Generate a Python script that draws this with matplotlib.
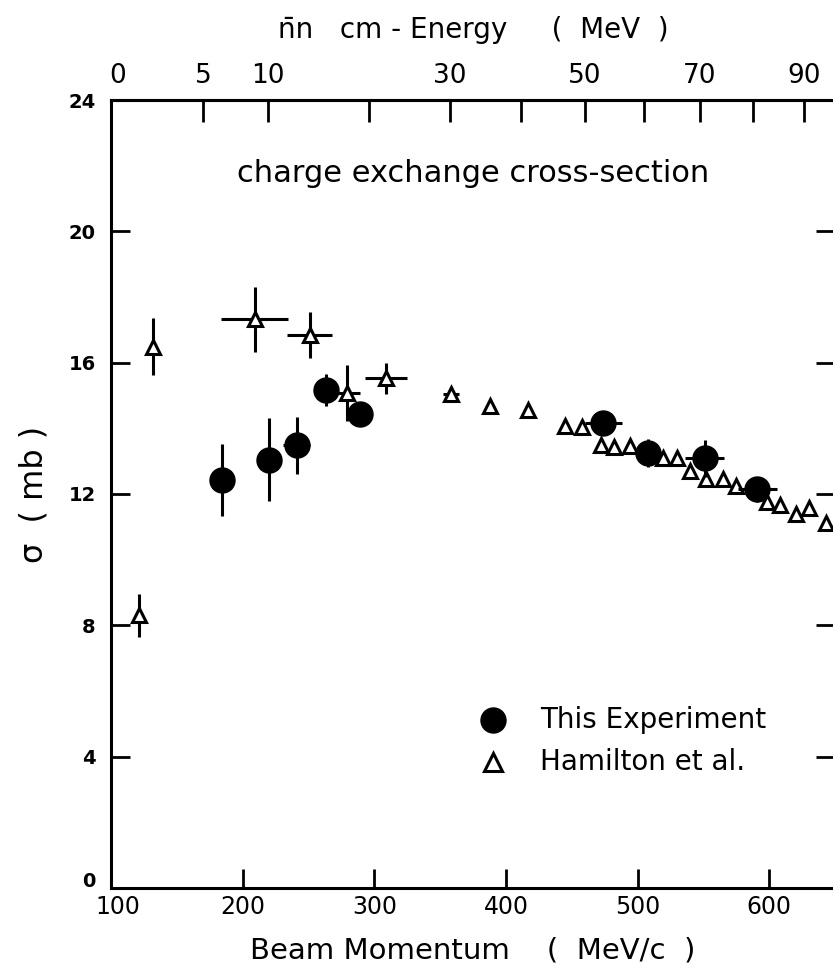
import numpy as np
import matplotlib
matplotlib.use("Agg")
import matplotlib.pyplot as plt
import matplotlib.transforms as mtransforms

# charge exchange pbar p -> nbar n cross-section vs beam momentum
# this experiment (filled circles)
exp_p = [184, 220, 241, 263, 289, 474, 508, 551, 591]
exp_sigma = [12.43, 13.04, 13.49, 15.17, 14.44, 14.17, 13.26, 13.09, 12.14]
exp_dp = [0, 0, 10, 0, 0, 14, 10, 14.6, 15]
exp_dsigma = [1.1, 1.26, 0.87, 0.48, 0.3, 0.2, 0.43, 0.56, 0.37]

# Hamilton et al. (open triangles)
ham_p = [132, 209, 251, 279, 309, 358, 388, 417, 445, 458, 472, 482, 494,
         519, 530, 540, 552, 565, 575, 598, 608, 620, 630, 643]
ham_sigma = [16.49, 17.32, 16.84, 15.07, 15.52, 15.05, 14.68, 14.56, 14.08,
             14.03, 13.49, 13.42, 13.46, 13.10, 13.09, 12.70, 12.46, 12.46,
             12.24, 11.76, 11.66, 11.39, 11.56, 11.11]
ham_dp = [0, 25.6, 17.2, 9.8, 16, 6, 0, 0, 0, 0, 0, 0, 0,
          0, 0, 0, 0, 0, 0, 0, 0, 0, 0, 0]
ham_dsigma = [0.86, 1.0, 0.69, 0.85, 0.48, 0.2, 0, 0, 0, 0.23, 0, 0, 0,
              0, 0, 0, 0, 0, 0, 0, 0, 0, 0, 0]

# extra low-momentum Hamilton point near threshold
low_p = [121]
low_sigma = [8.3]
low_dsigma = [0.65]

energy_ticks = [5, 10, 20, 30, 40, 50, 60, 70, 80, 90]
energy_labels = ["5", "10", "", "30", "", "50", "", "70", "", "90"]

M_P = 938.27
M_N = 939.57


def p_to_T(p):
    # nbar-n kinetic energy in the cm frame for a pbar beam of momentum p
    p = np.asarray(p, dtype=float)
    e = np.sqrt(p**2 + M_P**2)
    s = 2 * M_P**2 + 2 * M_P * e
    return np.sqrt(s) - 2 * M_N


def T_to_p(t):
    t = np.asarray(t, dtype=float)
    w = t + 2 * M_N
    e = (w**2 - 2 * M_P**2) / (2 * M_P)
    return np.sqrt(np.clip(e**2 - M_P**2, 0, None))


def nudge(label, dx, dy):
    # shift a tick label by (dx, dy) points
    off = mtransforms.ScaledTranslation(dx / 72, dy / 72, fig.dpi_scale_trans)
    label.set_transform(label.get_transform() + off)


plt.rcParams["font.family"] = "DejaVu Sans"

fig = plt.figure(figsize=(8.33, 9.73), dpi=100)
ax = fig.add_axes([0.1333, 0.0874, 0.8691, 0.8098])

lw = 2.2
err_kw = dict(ecolor="black", elinewidth=lw, capsize=0, linestyle="none")

ax.errorbar(ham_p, ham_sigma, xerr=ham_dp, yerr=ham_dsigma, marker="^",
            ms=10, mfc="white", mec="black", mew=2.2, zorder=3, **err_kw)
ax.errorbar(low_p, low_sigma, yerr=low_dsigma, marker="^",
            ms=10, mfc="white", mec="black", mew=2.2, zorder=3, **err_kw)
ax.errorbar(exp_p, exp_sigma, xerr=exp_dp, yerr=exp_dsigma, marker="o",
            ms=18, mfc="black", mec="black", zorder=4, **err_kw)

ax.set_xlim(100, 650)
ax.set_ylim(0, 24)
ax.set_xticks([100, 200, 300, 400, 500, 600])
ax.set_yticks([0, 4, 8, 12, 16, 20, 24])

for s in ax.spines.values():
    s.set_linewidth(2.2)

ax.tick_params(axis="x", direction="in", length=14, width=2, labelsize=17,
               pad=5, top=False)
ax.tick_params(axis="y", direction="in", length=14, width=2, labelsize=14,
               pad=11, right=True)
for lbl in ax.get_yticklabels():
    lbl.set_fontweight("bold")

# corner labels: lift the "0" and push "100" right so they don't collide
nudge(ax.get_yticklabels()[0], 0, 6)
nudge(ax.get_xticklabels()[0], 5, 0)

# top axis in cm energy
sec = ax.secondary_xaxis("top", functions=(p_to_T, T_to_p))
sec.set_xticks([float(p_to_T(100.0))] + energy_ticks, ["0"] + energy_labels)
sec.tick_params(direction="in", length=16, width=2, labelsize=19, pad=8)
sec.spines["top"].set_linewidth(2.2)
sec.set_xlabel("n\u0304n   cm - Energy     (  MeV  )", fontsize=20,
               labelpad=18)
nudge(sec.xaxis.get_majorticklabels()[0], 5, 0)

ax.set_xlabel("Beam Momentum    (  MeV/c  )", fontsize=21, labelpad=13)
ax.set_ylabel("\u03c3  ( mb )", fontsize=23, labelpad=14)

ax.text(0.5, 0.907, "charge exchange cross-section", transform=ax.transAxes,
        ha="center", va="center", fontsize=22)

# legend drawn by hand as marker + text
ax.plot([0.5276], [0.2132], transform=ax.transAxes, marker="o", ms=18,
        color="black", linestyle="none")
ax.plot([0.5276], [0.16], transform=ax.transAxes, marker="^", ms=13,
        mfc="white", mec="black", mew=2.2, linestyle="none")
ax.text(0.5925, 0.2132, "This Experiment", transform=ax.transAxes,
        ha="left", va="center", fontsize=20)
ax.text(0.5925, 0.16, "Hamilton et al.", transform=ax.transAxes,
        ha="left", va="center", fontsize=20)

fig.savefig("out.png", dpi=100)
